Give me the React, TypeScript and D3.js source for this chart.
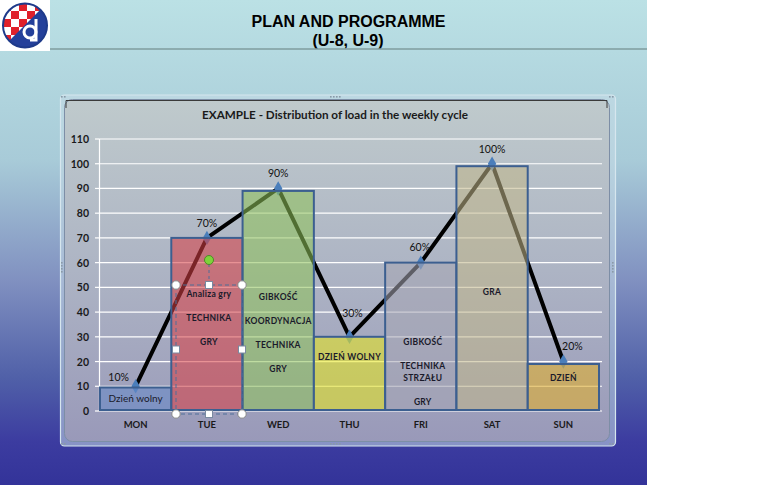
import React from "react";
import * as d3 from "d3";

// ---------- data ----------
const days = ["MON", "TUE", "WED", "THU", "FRI", "SAT", "SUN"];
const barValues = [9.5, 70, 89, 30, 60, 99, 19];
const loadValues = [10, 70, 90, 30, 60, 100, 20];
const loadLabels = ["10%", "70%", "90%", "30%", "60%", "100%", "20%"];
const yTicks = [0, 10, 20, 30, 40, 50, 60, 70, 80, 90, 100, 110];
const dayNotes: string[][] = [
  ["Dzień wolny"],
  ["Analiza gry", "", "TECHNIKA", "", "GRY"],
  ["GIBKOŚĆ", "", "KOORDYNACJA", "", "TECHNIKA", "", "GRY"],
  ["DZIEŃ WOLNY"],
  ["GIBKOŚĆ", "", "TECHNIKA", "STRZAŁU", "", "GRY"],
  ["GRA"],
  ["DZIEŃ"],
];
const noteTops = [5.3, 47.3, 46.1, 21.8, 27.9, 48.1, 13.3];
const title = "PLAN AND PROGRAMME";
const subtitle = "(U-8, U-9)";
const chartTitle = "EXAMPLE - Distribution of load in the weekly cycle";

// ---------- style ----------
const barColors = ["#668ac6", "#d74045", "#8ec159", "#e7e71d", "#a5a5b4", "#bfb68a", "#e5af26"];
const labelNudge: [number, number][] = [
  [-17, -9.5], [0, -15], [0, -15.5], [3, -24], [-1, -15.5], [0, -15], [9, -15.5],
];
const FONT = "Lato, 'Open Sans', sans-serif";

export default function App() {
  const W = 758, H = 485;
  const x = d3.scaleBand<string>().domain(days).range([100, 599]).padding(0);
  const y = d3.scaleLinear().domain([0, 110]).range([411, 139]);
  const cx = (d: string) => (x(d) as number) + x.bandwidth() / 2;

  const line = d3
    .line<number>()
    .x((_, i) => cx(days[i]))
    .y((v) => y(v));

  const diamond = d3.symbol().type(d3.symbolDiamond).size(60)();

  // checker for logo
  const checks: { x: number; y: number; red: boolean }[] = [];
  for (let r = 0; r < 5; r++)
    for (let c = 0; c < 5; c++) checks.push({ x: 3 + c * 8, y: 3 + r * 8, red: (r + c) % 2 === 0 });

  const handleDots = (px: number, py: number, n: number, key: string) =>
    d3.range(n).map((k) => (
      <rect key={key + k} x={px + k * 3} y={py} width={1.6} height={1.6} fill="#8a9aa8" />
    ));

  // TUE text box selection
  const tb = { x0: 176, x1: 242, y0: 285, y1: 414 };
  const tbmx = (tb.x0 + tb.x1) / 2, tbmy = (tb.y0 + tb.y1) / 2;

  return (
    <svg
      width={W}
      height={H}
      style={{ position: "absolute", left: 0, top: 0, display: "block" }}
      fontFamily={FONT}
    >
      <defs>
        <linearGradient id="slideBg" x1="0" y1="0" x2="0" y2="1">
          <stop offset="0" stopColor="#bbe1e5" />
          <stop offset="0.33" stopColor="#a8cbd8" />
          <stop offset="0.58" stopColor="#8090c0" />
          <stop offset="0.78" stopColor="#5060a8" />
          <stop offset="0.91" stopColor="#3c3ca0" />
          <stop offset="1" stopColor="#333399" />
        </linearGradient>
        <linearGradient id="chartBg" x1="0" y1="0" x2="0" y2="1">
          <stop offset="0" stopColor="#bfcacc" />
          <stop offset="0.5" stopColor="#adb4c4" />
          <stop offset="1" stopColor="#9999b9" />
        </linearGradient>
        <clipPath id="logoClip">
          <circle cx={25} cy={25.5} r={22} />
        </clipPath>
      </defs>

      {/* page */}
      <rect x={0} y={0} width={W} height={H} fill="#ffffff" />
      <rect x={0} y={0} width={647} height={H} fill="url(#slideBg)" />

      {/* logo */}
      <rect x={0} y={0} width={50} height={51} fill="#ffffff" />
      <g clipPath="url(#logoClip)">
        {checks.map((c, i) => (
          <rect key={i} x={c.x} y={c.y} width={8} height={8} fill={c.red ? "#e0202a" : "#ffffff"} />
        ))}
        <polygon points="0,52 52,52 52,0 44,6 6,44" fill="#24409a" />
      </g>
      <circle cx={25} cy={25.5} r={22} fill="none" stroke="#1e3a8a" strokeWidth={2} />
      <circle cx={30} cy={32} r={6} fill="none" stroke="#ffffff" strokeWidth={3} />
      <path d="M36,19 L36,40 L30,40" fill="none" stroke="#ffffff" strokeWidth={3} />

      {/* header */}
      <text x={348.5} y={27} textAnchor="middle" fontFamily="'Liberation Sans', Arial, sans-serif" fontWeight="bold" fontSize={16} fill="#000">
        {title}
      </text>
      <text x={348} y={45.5} textAnchor="middle" fontFamily="'Liberation Sans', Arial, sans-serif" fontWeight="bold" fontSize={16} fill="#000">
        {subtitle}
      </text>
      <line x1={50} x2={647} y1={49} y2={49} stroke="#7f9c9e" strokeWidth={1.6} />

      {/* chart frame */}
      <rect x={60.5} y={95} width={555} height={351} rx={4} fill="#c6dbe6" fillOpacity={0.55} stroke="#d6e6ee" strokeWidth={1.2} />
      <rect x={64.5} y={99.5} width={545} height={342} rx={8} fill="url(#chartBg)" stroke="#7d8ea6" strokeWidth={1} />
      <path d="M66,108 L66,100.5 L607,100.5 L607,108" fill="none" stroke="#3a3a3a" strokeWidth={1} />
      {handleDots(61, 96, 2, "tl")}
      {handleDots(330, 96, 4, "tm")}
      {handleDots(609, 96, 2, "tr")}
      {handleDots(61, 443, 2, "bl")}
      {handleDots(330, 443, 4, "bm")}
      {handleDots(609, 443, 2, "br")}
      {d3.range(4).map((k) => (
        <rect key={"lm" + k} x={61} y={262 + k * 3} width={1.6} height={1.6} fill="#8a9aa8" />
      ))}
      {d3.range(4).map((k) => (
        <rect key={"rm" + k} x={612} y={262 + k * 3} width={1.6} height={1.6} fill="#8a9aa8" />
      ))}

      {/* chart title */}
      <text x={335} y={114} textAnchor="middle" dominantBaseline="central" fontWeight="bold" fontSize={11.7} fill="#1a1a1a">
        {chartTitle}
      </text>

      {/* gridlines */}
      {yTicks.map((t) => (
        <g key={t}>
          <line x1={99} x2={602} y1={y(t)} y2={y(t)} stroke="#ffffff" strokeWidth={1.2} />
          <line x1={95} x2={99} y1={y(t)} y2={y(t)} stroke="#ffffff" strokeWidth={1.2} />
          <text x={89} y={y(t)} textAnchor="end" dominantBaseline="central" fontWeight="bold" fontSize={10.5} fill="#1a1a1a">
            {t}
          </text>
        </g>
      ))}
      <line x1={99.5} x2={99.5} y1={y(110)} y2={y(0)} stroke="#ffffff" strokeWidth={1.2} />

      {/* load line (behind translucent bars) */}
      <path d={line(loadValues) || ""} fill="none" stroke="#000000" strokeWidth={4} strokeLinejoin="round" />
      {loadValues.map((v, i) => (
        <path key={i} d={diamond || ""} transform={`translate(${cx(days[i])},${y(v)})`} fill="#4a7ebb" />
      ))}

      {/* bars */}
      {barValues.map((v, i) => (
        <rect
          key={days[i]}
          x={x(days[i]) as number}
          y={y(v)}
          width={x.bandwidth()}
          height={y(0) - y(v) - 1}
          fill={barColors[i]}
          fillOpacity={0.57}
          stroke="#3c5f90"
          strokeWidth={2}
        />
      ))}

      {/* value labels */}
      {loadValues.map((v, i) => (
        <text
          key={"l" + i}
          x={cx(days[i]) + labelNudge[i][0]}
          y={y(v) + labelNudge[i][1]}
          textAnchor="middle"
          dominantBaseline="central"
          fontSize={10.5}
          fill="#111"
        >
          {loadLabels[i]}
        </text>
      ))}

      {/* notes inside bars */}
      {dayNotes.map((lines, i) =>
        lines.map((s, j) =>
          s ? (
            <text
              key={"n" + i + "-" + j}
              x={cx(days[i]) + (i === 1 || i === 4 ? 2 : 0)}
              y={y(noteTops[i]) + j * 12}
              textAnchor="middle"
              dominantBaseline="central"
              fontSize={i === 0 ? 10 : 8.5}
              fontWeight={i === 0 ? "normal" : "bold"}
              letterSpacing={i === 0 ? 0 : 0.3}
              fill="#1a1a2a"
            >
              {s}
            </text>
          ) : null
        )
      )}

      {/* x labels */}
      {days.map((d) => (
        <text key={"x" + d} x={cx(d)} y={424} textAnchor="middle" dominantBaseline="central" fontWeight="bold" fontSize={9.5} fill="#1a1a1a">
          {d}
        </text>
      ))}

      {/* selected text box on TUE */}
      <rect x={tb.x0} y={tb.y0} width={tb.x1 - tb.x0} height={tb.y1 - tb.y0} fill="none" stroke="#4f6f98" strokeWidth={1} strokeDasharray="4,3" />
      <line x1={tbmx} x2={tbmx} y1={tb.y0} y2={262} stroke="#4f6f98" strokeWidth={1} strokeDasharray="3,3" />
      <circle cx={tbmx} cy={260} r={4.5} fill="#7ed33a" stroke="#4f8a28" strokeWidth={1} />
      {[
        [tb.x0, tb.y0], [tb.x1, tb.y0], [tb.x0, tb.y1], [tb.x1, tb.y1],
      ].map(([px, py], k) => (
        <circle key={"c" + k} cx={px} cy={py} r={4.2} fill="#ffffff" stroke="#8a8a8a" strokeWidth={1} />
      ))}
      {[
        [tbmx, tb.y0], [tbmx, tb.y1], [tb.x0, tbmy], [tb.x1, tbmy],
      ].map(([px, py], k) => (
        <rect key={"s" + k} x={px - 3.5} y={py - 3.5} width={7} height={7} fill="#ffffff" stroke="#7a8aa0" strokeWidth={1} />
      ))}
    </svg>
  );
}
